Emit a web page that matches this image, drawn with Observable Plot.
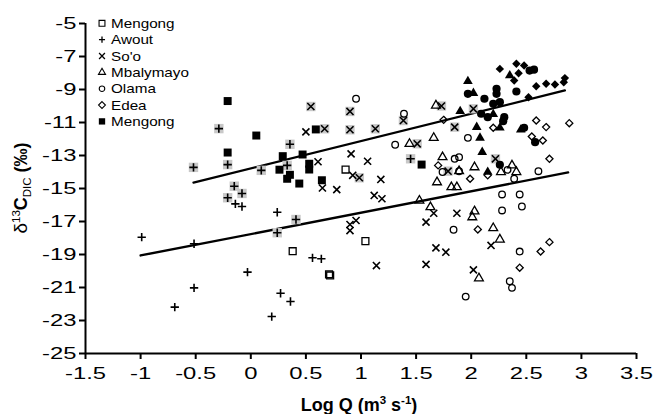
<!DOCTYPE html>
<html><head><meta charset="utf-8">
<script src="https://cdn.jsdelivr.net/npm/d3@7"></script>
<script src="https://cdn.jsdelivr.net/npm/@observablehq/plot@0.6"></script>
<style>
body{margin:0;background:#fff;}
#chart{width:655px;height:414px;}
</style></head><body><div id="chart"></div>
<script>
// ---- data: [log Q, d13C-DIC] ----
const mengongOpen = [[0.86,-13.85],[0.38,-18.8],[1.04,-18.19],[0.71,-20.2],[0.72,-20.27]];
const mengongFilled = [[-0.21,-9.7],[0.05,-11.79],[0.59,-11.42],[-0.21,-12.82],[0.29,-13.04],[0.47,-12.94],[0.26,-13.86],[0.53,-13.5],[0.53,-13.85],[0.355,-14.17],[0.33,-14.41],[0.44,-14.7],[0.645,-14.5],[1.55,-13.55]];
const awoutLow = [[-0.14,-15.93],[-0.08,-16.09],[0.24,-16.44],[-0.99,-17.95],[-0.515,-18.35],[0.56,-19.2],[0.64,-19.26],[-0.03,-20.07],[-0.515,-21.02],[-0.69,-22.19],[0.27,-21.35],[0.36,-21.85],[0.19,-22.76]];
const awoutHigh = [[-0.29,-11.37],[-0.21,-13.55],[-0.52,-13.72],[0.095,-13.9],[0.355,-12.32],[0.33,-13.6],[-0.15,-14.86],[-0.21,-15.56],[-0.08,-15.3],[0.41,-16.88],[0.24,-17.68],[1.45,-13.2]];
const sooLow = [[0.5,-11.57],[0.61,-13.38],[0.65,-14.97],[0.78,-15.07],[0.91,-12.9],[1.06,-13.35],[1.18,-14.45],[0.925,-14.2],[0.9,-17.18],[0.9,-17.55],[0.955,-16.94],[1.14,-19.67],[1.59,-19.6],[1.68,-18.6],[1.77,-18.86],[1.59,-17.04],[1.66,-16.5],[1.87,-16.5],[1.12,-15.42],[1.19,-15.62],[2.18,-18.45],[2.02,-19.93]];
const sooHigh = [[0.545,-10.03],[0.67,-11.38],[0.985,-14.35],[0.9,-10.33],[0.9,-11.44],[1.13,-11.38],[1.385,-10.88],[1.73,-10.0],[1.85,-11.28],[1.51,-12.29],[1.79,-13.95],[2.02,-10.17],[2.22,-13.2]];
const mbalOpen = [[1.63,-16.13],[1.53,-15.73],[1.74,-13.1],[1.69,-14.62],[1.82,-14.92],[1.87,-14.92],[1.68,-9.97],[1.44,-12.29],[1.66,-11.93],[2.03,-13.71],[2.37,-13.6],[2.41,-14.0],[2.27,-14.0],[2.03,-16.38],[2.01,-16.74],[2.2,-17.4],[2.26,-18.09],[2.07,-20.44],[1.89,-13.95]];
const mbalFilled = [[1.97,-8.5],[2.02,-9.22],[2.35,-8.15],[1.9,-10.32],[2.2,-10.5],[2.26,-11.32],[2.05,-11.28],[2.08,-11.93],[2.45,-11.44],[2.1,-12.8],[2.15,-14.0]];
const olamaOpen = [[1.84,-17.5],[1.95,-21.55],[1.85,-13.2],[1.89,-13.1],[1.74,-14.0],[1.89,-13.95],[0.955,-9.56],[1.39,-10.47],[1.31,-12.35],[1.97,-11.93],[2.33,-13.87],[2.39,-14.41],[2.61,-13.95],[2.28,-15.36],[2.44,-15.36],[2.28,-16.33],[2.46,-16.09],[2.44,-18.82],[2.35,-20.62],[2.37,-21.02]];
const olamaFilled = [[1.97,-9.26],[2.12,-9.56],[2.23,-8.96],[2.23,-9.26],[2.53,-7.85],[2.57,-7.8],[2.41,-9.12],[2.2,-9.87],[2.26,-9.77],[2.09,-10.47],[2.15,-10.68],[2.3,-10.68],[2.29,-10.92],[2.48,-11.32],[2.58,-12.19],[2.26,-13.56]];
const edeaOpen = [[1.7,-13.6],[1.75,-10.84],[2.2,-11.32],[2.59,-10.88],[2.68,-11.28],[2.89,-11.04],[2.55,-11.85],[2.65,-12.09],[2.71,-13.2],[1.99,-14.41],[2.15,-14.2],[2.06,-17.48],[2.63,-18.82],[2.71,-18.25],[2.44,-19.8]];
const edeaFilled = [[2.26,-7.75],[2.41,-7.44],[2.48,-7.55],[2.43,-8.01],[2.39,-8.45],[2.59,-8.8],[2.68,-8.65],[2.76,-8.7],[2.85,-8.31],[2.84,-8.56],[2.52,-9.47]];
// regression lines (end points)
const fitHigh = [[-0.52,-14.64],[2.85,-9.06]];
const fitLow = [[-1.0,-19.06],[2.88,-14.03]];
const xTicks = [-1.5,-1,-0.5,0,0.5,1,1.5,2,2.5,3,3.5];
const yTicks = [-5,-7,-9,-11,-13,-15,-17,-19,-21,-23,-25];
const legendLabels = ["Mengong","Awout","So'o","Mbalymayo","Olama","Edea","Mengong"];

const grey = "#c8c8c8";
const dots = (data, symbol, r, opts) => Plot.dot(data, {x: d=>d[0], y: d=>d[1], symbol, r, ...opts});
const openS = {fill:"none", stroke:"#000", strokeWidth:1.3};
const lineS = {fill:"none", stroke:"#000", strokeWidth:1.6};
const fillS = {fill:"#000", stroke:"none"};

const chart = Plot.plot({
  width:655, height:414,
  marginLeft:85, marginRight:19, marginTop:23, marginBottom:61,
  style:{fontFamily:"'Liberation Sans', Arial, sans-serif", background:"#fff", color:"#000", overflow:"visible"},
  x:{domain:[-1.5,3.5]},
  y:{domain:[-25,-5]},
  marks:[
    Plot.axisX({ticks:xTicks, tickSize:6, tickPadding:7, fontSize:17, strokeWidth:2, label:null, tickFormat:d=>String(d)}),
    Plot.axisY({ticks:yTicks, tickSize:6, tickPadding:3, fontSize:17, strokeWidth:2, label:null, tickFormat:d=>String(d)}),
    Plot.ruleY([-25], {stroke:"#000", strokeWidth:2}),
    Plot.ruleX([-1.5], {stroke:"#000", strokeWidth:2}),
    Plot.line(fitHigh, {x:d=>d[0], y:d=>d[1], stroke:"#000", strokeWidth:2.3}),
    Plot.line(fitLow, {x:d=>d[0], y:d=>d[1], stroke:"#000", strokeWidth:2.3}),
    dots(awoutHigh, "square", 5.3, {fill:grey}),
    dots(sooHigh, "square", 5.3, {fill:grey}),
    dots(mengongOpen, "square2", 4.4, openS),
    dots(awoutLow, "plus", 2.8, lineS),
    dots(awoutHigh, "plus", 2.8, lineS),
    dots(sooLow, "times", 3.3, lineS),
    dots(sooHigh, "times", 3.3, lineS),
    dots(mbalOpen, "triangle2", 4.2, openS),
    dots(olamaOpen, "circle", 3.3, openS),
    dots(edeaOpen, "diamond2", 3.2, openS),
    dots(mengongFilled, "square", 4.5, fillS),
    dots(mbalFilled, "triangle", 3.6, fillS),
    dots(olamaFilled, "circle", 4.1, fillS),
    dots(edeaFilled, "diamond2", 3.8, fillS)
  ]
});
document.getElementById("chart").appendChild(chart);

const svg = d3.select(chart);
// stretch tick labels horizontally like the original (scale about each label's anchor)
svg.selectAll('g[aria-label$="tick label"] text').each(function(){
  const tr = this.getAttribute("transform");
  if (tr) this.setAttribute("transform", tr + " scale(1.4,1)");
  else {
    const len = this.getComputedTextLength();
    this.setAttribute("textLength", len*1.4);
    this.setAttribute("lengthAdjust","spacingAndGlyphs");
  }
});

// legend
const legendSyms = [
  {t:d3.symbolSquare2, s:44, fill:"none", stroke:"#000", sw:1.1},
  {t:d3.symbolPlus, s:14, fill:"none", stroke:"#000", sw:1.3},
  {t:d3.symbolTimes, s:24, fill:"none", stroke:"#000", sw:1.3},
  {t:d3.symbolTriangle2, s:36, fill:"none", stroke:"#000", sw:1.1},
  {t:d3.symbolCircle, s:24, fill:"none", stroke:"#000", sw:1.1},
  {t:d3.symbolDiamond2, s:30, fill:"none", stroke:"#000", sw:1.1},
  {t:d3.symbolSquare, s:40, fill:"#000", stroke:"none", sw:0}
];
const lg = svg.append("g").attr("transform","translate(102,23.3)").attr("text-anchor","start");
legendLabels.forEach((lab,i)=>{
  const g = lg.append("g").attr("transform",`translate(0,${i*16.35})`);
  const s = legendSyms[i];
  g.append("path").attr("d", d3.symbol(s.t, s.s)()).attr("fill", s.fill).attr("stroke", s.stroke).attr("stroke-width", s.sw);
  g.append("text").attr("transform","translate(9,0) scale(1.22,1)").attr("text-anchor","start")
    .attr("dy","0.36em").attr("font-size",12.5).attr("fill","#000").text(lab);
});

// x-axis title
const xt = svg.append("text").attr("x",359).attr("y",411).attr("text-anchor","middle")
  .attr("font-size",18).attr("font-weight","bold").attr("fill","#000");
xt.append("tspan").text("Log Q (m");
xt.append("tspan").attr("font-size",11.5).attr("dy",-7).text("3");
xt.append("tspan").attr("dy",7).text(" s");
xt.append("tspan").attr("font-size",11.5).attr("dy",-7).text("-1");
xt.append("tspan").attr("dy",7).text(")");

// y-axis title
const yt = svg.append("text").attr("transform","translate(27,188) rotate(-90)").attr("text-anchor","middle")
  .attr("font-size",18).attr("fill","#000");
yt.append("tspan").attr("font-size",19).text("δ");
yt.append("tspan").attr("font-size",11.5).attr("dy",-7).text("13");
yt.append("tspan").attr("dy",7).attr("font-weight","bold").text("C");
yt.append("tspan").attr("font-size",11.5).attr("dy",4).text("DIC");
yt.append("tspan").attr("dy",-4).attr("font-weight","bold").text(" (‰)");
</script>
</body></html>
